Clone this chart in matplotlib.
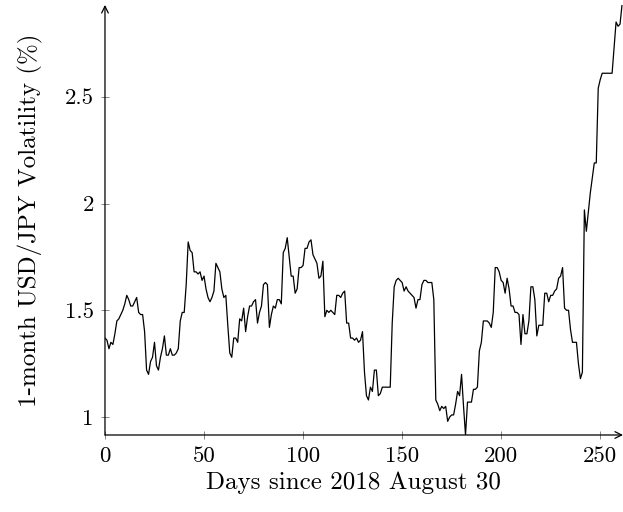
import matplotlib
matplotlib.use("Agg")
import matplotlib.pyplot as plt

# 1-month USD/JPY implied volatility (%), one value per day from 2018-08-30
vol = [
    1.37, 1.36, 1.32, 1.35, 1.34, 1.39, 1.45, 1.46, 1.48, 1.50,
    1.53, 1.57, 1.55, 1.52, 1.52, 1.54, 1.56, 1.49, 1.48, 1.48,
    1.40, 1.22, 1.20, 1.26, 1.28, 1.35, 1.24, 1.22, 1.28, 1.32,
    1.38, 1.29, 1.29, 1.32, 1.29, 1.29, 1.30, 1.32, 1.45, 1.49,
    1.49, 1.62, 1.82, 1.78, 1.77, 1.68, 1.68, 1.67, 1.68, 1.64,
    1.66, 1.60, 1.56, 1.54, 1.56, 1.59, 1.72, 1.70, 1.68, 1.60,
    1.56, 1.57, 1.43, 1.30, 1.28, 1.37, 1.37, 1.35, 1.46, 1.45,
    1.51, 1.40, 1.47, 1.52, 1.52, 1.54, 1.55, 1.44, 1.49, 1.52,
    1.62, 1.63, 1.62, 1.42, 1.48, 1.52, 1.51, 1.55, 1.55, 1.53,
    1.77, 1.79, 1.84, 1.75, 1.66, 1.66, 1.58, 1.60, 1.70, 1.70,
    1.71, 1.79, 1.79, 1.82, 1.83, 1.76, 1.74, 1.72, 1.65, 1.66,
    1.73, 1.47, 1.50, 1.49, 1.50, 1.49, 1.48, 1.57, 1.57, 1.56,
    1.58, 1.59, 1.44, 1.44, 1.37, 1.37, 1.36, 1.37, 1.35, 1.36,
    1.40, 1.21, 1.10, 1.08, 1.14, 1.12, 1.22, 1.22, 1.10, 1.11,
    1.14, 1.14, 1.14, 1.14, 1.14, 1.44, 1.61, 1.64, 1.65, 1.64,
    1.63, 1.59, 1.61, 1.59, 1.58, 1.57, 1.56, 1.51, 1.55, 1.55,
    1.62, 1.64, 1.64, 1.63, 1.63, 1.63, 1.55, 1.08, 1.06, 1.03,
    1.05, 1.04, 1.05, 0.98, 1.00, 1.01, 1.01, 1.06, 1.12, 1.10,
    1.20, 1.05, 0.916, 1.07, 1.07, 1.07, 1.13, 1.13, 1.14, 1.31,
    1.35, 1.45, 1.45, 1.45, 1.44, 1.42, 1.49, 1.70, 1.70, 1.68,
    1.64, 1.63, 1.58, 1.65, 1.60, 1.52, 1.52, 1.49, 1.49, 1.48,
    1.34, 1.48, 1.39, 1.39, 1.45, 1.61, 1.61, 1.55, 1.38, 1.43,
    1.43, 1.43, 1.58, 1.58, 1.54, 1.57, 1.57, 1.59, 1.60, 1.65,
    1.66, 1.70, 1.51, 1.50, 1.50, 1.41, 1.35, 1.35, 1.35, 1.25,
    1.18, 1.21, 1.97, 1.87, 1.96, 2.05, 2.12, 2.19, 2.19, 2.54,
    2.58, 2.61, 2.61, 2.61, 2.61, 2.61, 2.61, 2.73, 2.85, 2.83,
    2.84, 2.93,
]
days = list(range(len(vol)))

x_ticks = [0, 50, 100, 150, 200, 250]
y_ticks = [1, 1.5, 2, 2.5]
y_tick_labels = ["1", "1.5", "2", "2.5"]

plt.rcParams["font.family"] = ["cmr10", "DejaVu Serif"]
plt.rcParams["mathtext.fontset"] = "cm"
plt.rcParams["axes.formatter.use_mathtext"] = True

fig = plt.figure(figsize=(6.23, 5.12), dpi=100)
ax = fig.add_axes([0.1685, 0.1504, 0.8315, 0.8400])

ax.plot(days, vol, color="black", lw=0.9)

ax.set_xlim(0, 261.5)
ax.set_ylim(0.916, 2.93)

for s in ["top", "right", "left", "bottom"]:
    ax.spines[s].set_visible(False)

# pgfplots-style axis lines with arrow tips
arrow = dict(arrowstyle="->", lw=0.9, color="black", shrinkA=0, shrinkB=0,
             mutation_scale=12)
ax.annotate("", xy=(1.0, 0), xytext=(0, 0), xycoords="axes fraction",
            arrowprops=arrow, annotation_clip=False)
ax.annotate("", xy=(0, 1.0), xytext=(0, 0), xycoords="axes fraction",
            arrowprops=arrow, annotation_clip=False)

ax.set_xticks(x_ticks)
ax.set_xticklabels([str(t) for t in x_ticks])
ax.set_yticks(y_ticks)
ax.set_yticklabels(y_tick_labels)
ax.tick_params(direction="inout", length=6, width=0.6, color="0.45",
               labelsize=16.5, pad=5)

ax.set_xlabel("Days since 2018 August 30", fontsize=18, labelpad=4)
ax.set_ylabel("1-month USD/JPY Volatility (%)", fontsize=18, labelpad=16)
ax.xaxis.label.set_x(0.48)

fig.savefig("out.png", dpi=100)
